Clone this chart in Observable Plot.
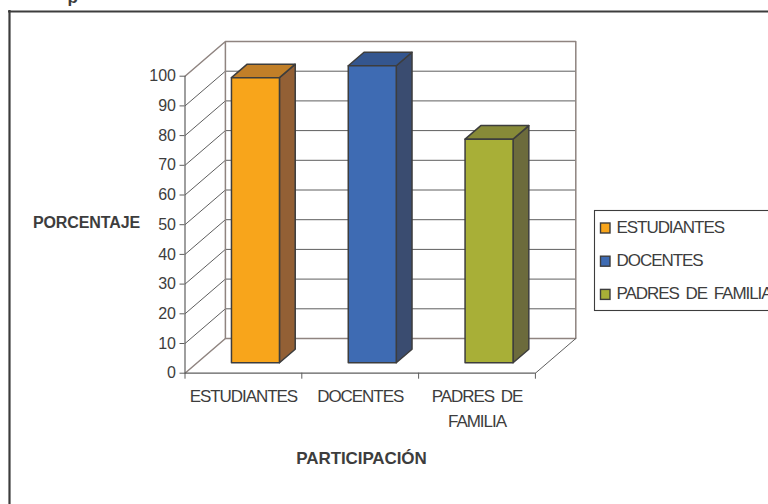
<!DOCTYPE html>
<html>
<head>
<meta charset="utf-8">
<script src="https://cdn.jsdelivr.net/npm/d3@7"></script>
<script src="https://cdn.jsdelivr.net/npm/@observablehq/plot@0.6"></script>
<style>
html,body{margin:0;padding:0;background:#fff;overflow:hidden}
svg{display:block}
.tight text{letter-spacing:-1.05px;word-spacing:3px}
.boldt text{letter-spacing:-0.1px}
</style>
</head>
<body>
<div id="chart"></div>
<script>
const categories = ["ESTUDIANTES", "DOCENTES", "PADRES DE FAMILIA"];
const tickCategories = ["ESTUDIANTES", "DOCENTES", "PADRES DE\nFAMILIA"];
const values = [96, 100, 75.3];
const frontColors = ["#F8A51B", "#3E6BB3", "#A8AF37"];
const topColors = ["#C17F28", "#34568F", "#878A38"];
const sideColors = ["#936035", "#3A4C70", "#6C6B3C"];
const yTicks = [0, 10, 20, 30, 40, 50, 60, 70, 80, 90, 100];
const xTicks = [0, 1, 2, 3];
const yTitle = "PORCENTAJE";
const xTitle = "PARTICIPACIÓN";
const clippedTitle = "p";

// plot layout, in pixels of the picture
const L = 184.5, R = 575.3, B = 372.7, T = 41, W = 768, H = 504;
const DX = (R - L) / 116.8 - 3;          // depth offset in category units
const DY = (B - T) / 2.97 - 100;         // depth offset in percent units
const xMax = 3 + DX, yMax = 100 + DY;
const px = p => (p - L) / (R - L) * xMax;   // pixel to x value, for furniture
const py = p => (B - p) / (B - T) * yMax;   // pixel to y value, for furniture

// oblique projection of (category, percent, depth)
const P = (c, v, z) => ({x: c + z * DX, y: v + z * DY});
const barL = 0.294, barR = 0.705, z0 = 0.30, z1 = 0.69;
const ink = "#3d3d3d", wall = "#8f8480", grid = "#5e5e5e";

const barMarks = values.flatMap((v, i) => {
  const a = i + barL, b = i + barR;
  const face = (pts, fill) => Plot.line(pts, {x: "x", y: "y", fill, stroke: ink, strokeWidth: 1.5, curve: "linear-closed"});
  return [
    face([P(b, 0, z0), P(b, 0, z1), P(b, v, z1), P(b, v, z0)], sideColors[i]),
    face([P(a, v, z0), P(b, v, z0), P(b, v, z1), P(a, v, z1)], topColors[i]),
    face([P(a, 0, z0), P(b, 0, z0), P(b, v, z0), P(a, v, z0)], frontColors[i])
  ];
});

const rowY = i => 228 + 33.2 * i;

const chart = Plot.plot({
  width: W, height: H,
  marginLeft: L, marginRight: W - R, marginTop: T, marginBottom: H - B,
  style: {fontFamily: "Liberation Sans, Arial, sans-serif", background: "#fff", color: ink},
  x: {domain: [0, xMax], axis: null},
  y: {domain: [0, yMax], axis: null},
  marks: [
    // outer border: only left and top edges are in view
    Plot.ruleX([px(9)], {y1: py(10), y2: py(H), stroke: ink, strokeWidth: 2.2}),
    Plot.ruleY([py(11)], {x1: px(8), x2: px(W), stroke: ink, strokeWidth: 2.2}),
    Plot.text([clippedTitle], {x: px(67), y: py(-3), text: d => d, fontWeight: "bold", fontSize: 17, textAnchor: "start", fill: ink}),

    // back wall grid and left wall grid
    Plot.link(yTicks.slice(1, -1), {x1: () => DX, x2: () => 3 + DX, y1: d => d + DY, y2: d => d + DY, stroke: grid, strokeWidth: 1}),
    Plot.link(yTicks.slice(1, -1), {x1: () => 0, x2: () => DX, y1: d => d, y2: d => d + DY, stroke: grid, strokeWidth: 1}),
    // walls and floor edges
    Plot.line([P(0, 100, 0), P(0, 100, 1), P(3, 100, 1), P(3, 0, 1), P(0, 0, 1), P(0, 100, 1)], {x: "x", y: "y", stroke: wall, strokeWidth: 1.5}),
    Plot.line([P(0, 0, 0), P(0, 0, 1)], {x: "x", y: "y", stroke: wall, strokeWidth: 1.5}),
    Plot.line([P(3, 0, 0), P(3, 0, 1)], {x: "x", y: "y", stroke: grid, strokeWidth: 1}),
    Plot.ruleY([0], {x1: 0, x2: 3, stroke: grid, strokeWidth: 1.2}),
    Plot.ruleX([0], {y1: 0, y2: 100, stroke: grid, strokeWidth: 1.2}),

    // axes
    Plot.axisY({ticks: yTicks, anchor: "left", label: null, tickSize: 5, tickPadding: 4, fontSize: 16, stroke: grid, fill: ink}),
    Plot.axisX({ticks: xTicks, anchor: "bottom", label: null, tickSize: 6, tickFormat: () => "", stroke: grid}),

    // bars
    ...barMarks,

    // category labels
    Plot.text(tickCategories, {
      x: (d, i) => i + 0.5, y: py(384), text: d => d, lineAnchor: "top", lineHeight: 1.47,
      fontSize: 17, fill: ink, className: "tight"
    }),
    // axis titles
    Plot.text([yTitle], {x: px(86), y: py(222), text: d => d, fontWeight: "bold", fontSize: 16, fill: ink, className: "boldt"}),
    Plot.text([xTitle], {x: px(361), y: py(458), text: d => d, fontWeight: "bold", fontSize: 17, fill: ink, className: "boldt"}),

    // legend
    Plot.rect([0], {x1: px(594.5), x2: px(W + 10), y1: py(210.5), y2: py(310.5), fill: "#fff", stroke: ink, strokeWidth: 1.1}),
    Plot.rect(categories, {
      x1: px(600.5), x2: px(610), y1: (d, i) => py(rowY(i) + 5), y2: (d, i) => py(rowY(i) - 5),
      fill: (d, i) => frontColors[i], stroke: ink, strokeWidth: 1.4
    }),
    Plot.text(categories, {
      x: px(616), y: (d, i) => py(rowY(i) - 1), text: d => d, textAnchor: "start",
      fontSize: 17, fill: ink, className: "tight"
    })
  ]
});
document.getElementById("chart").append(chart);
</script>
</body>
</html>
